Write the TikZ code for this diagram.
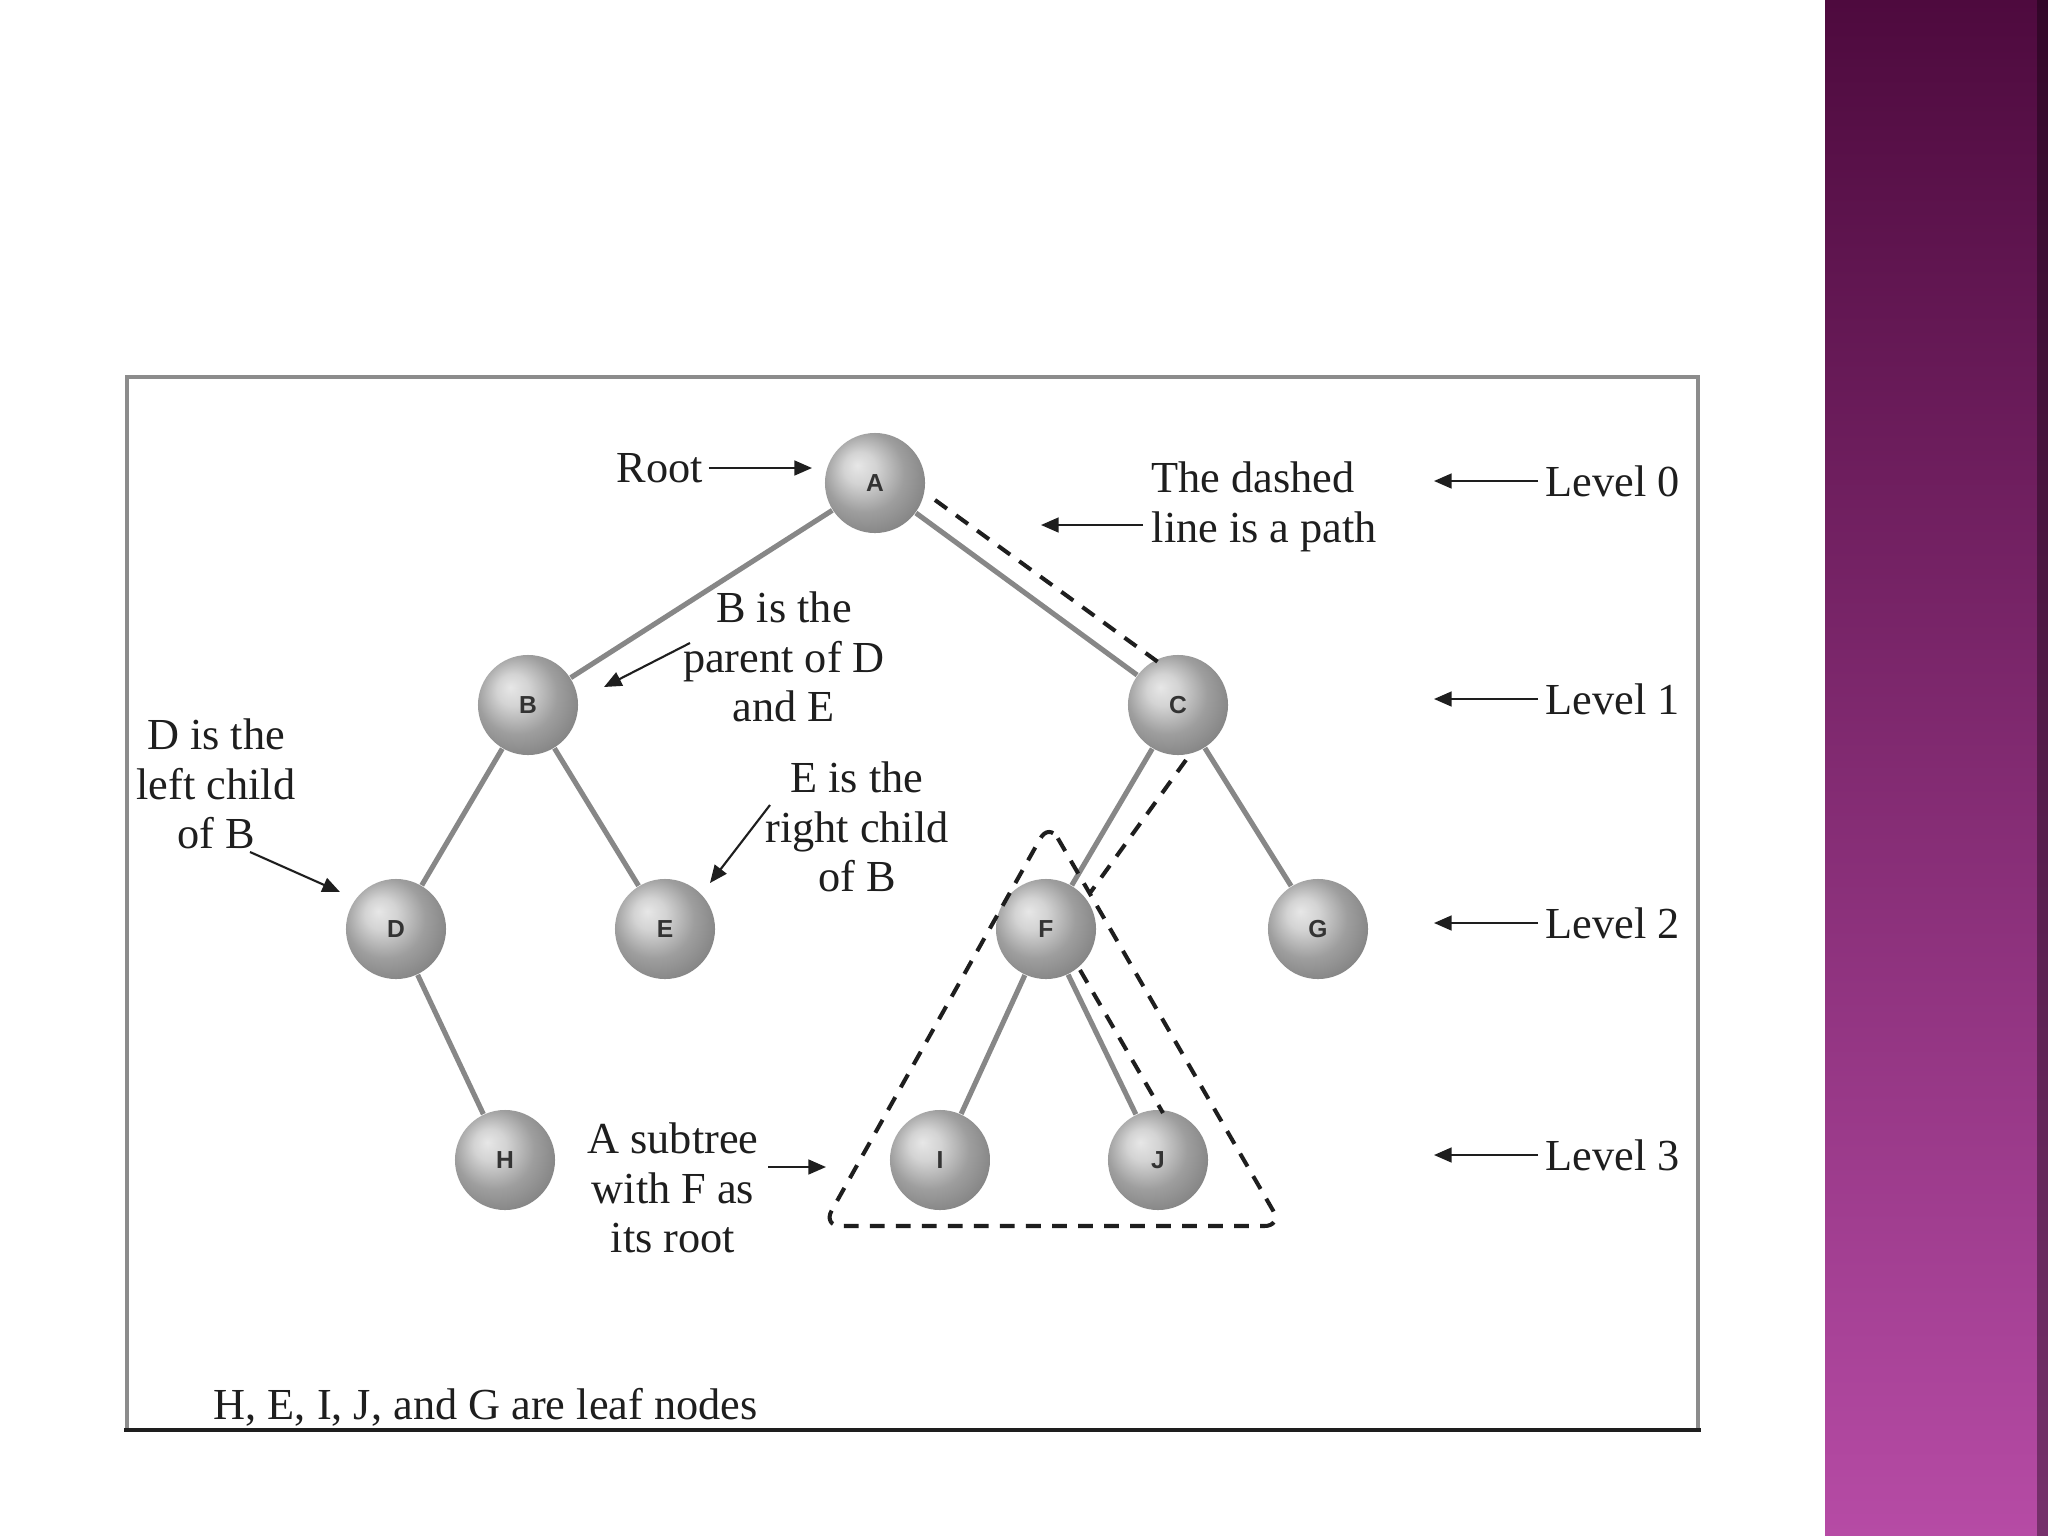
\documentclass[tikz,border=0pt]{standalone}
\usepackage{fontspec}
\setmainfont{Liberation Serif}
\newfontfamily\nodefont{Liberation Sans}
\usetikzlibrary{arrows.meta,calc}
\definecolor{ballgray}{RGB}{158,158,158}
\definecolor{edgegray}{RGB}{135,135,135}
\definecolor{boxgray}{RGB}{140,140,140}
\definecolor{bandtop}{RGB}{78,10,62}
\definecolor{bandmid}{RGB}{135,50,115}
\definecolor{bandbot}{RGB}{182,75,165}
\definecolor{ink}{RGB}{30,30,30}
\pgfdeclareradialshading{softball}{\pgfpoint{-9bp}{9bp}}{%
  color(0bp)=(ballgray!25!white);
  color(8bp)=(ballgray!45!white);
  color(20bp)=(ballgray);
  color(34bp)=(ballgray!78!black);
  color(50bp)=(ballgray!55!black)}
\begin{document}
\begin{tikzpicture}[x=0.01cm,y=-0.01cm,
  ball/.style={circle,shading=softball,minimum size=1cm,inner sep=0pt,
    font=\nodefont\bfseries\fontsize{7}{8}\selectfont,text=black!80},
  edge/.style={draw=edgegray,line width=1.45pt},
  pathdash/.style={draw=ink,line width=1.15pt,dash pattern=on 4.2pt off 3.2pt},
  note/.style={font=\fontsize{12.6}{14.1}\selectfont,align=center,inner sep=0pt,text=ink},
  ptr/.style={-{Triangle[length=5pt,width=4.2pt]},line width=0.6pt,draw=ink}]
\fill[white] (0,0) rectangle (2048,1536);
\useasboundingbox (0,0) rectangle (2048,1536);
% purple band
\shade[top color=bandtop, middle color=bandmid, bottom color=bandbot] (1825,0) rectangle (2048,1536);
\fill[black,opacity=0.35] (2037,0) rectangle (2048,1536);
% frame
\draw[boxgray,line width=1.2pt] (127,1430) -- (127,377) -- (1698,377) -- (1698,1430);
\draw[ink,line width=1.3pt] (124,1430) -- (1701,1430);
% nodes
\node[ball] (A) at (875,483) {A};
\node[ball] (B) at (528,705) {B};
\node[ball] (C) at (1178,705) {C};
\node[ball] (D) at (396,929) {D};
\node[ball] (E) at (665,929) {E};
\node[ball] (F) at (1046,929) {F};
\node[ball] (G) at (1318,929) {G};
\node[ball] (H) at (505,1160) {H};
\node[ball] (I) at (940,1160) {I};
\node[ball] (J) at (1158,1160) {J};
% edges
\draw[edge] (A) -- (B);
\draw[edge] (A) -- (C);
\draw[edge] (B) -- (D);
\draw[edge] (B) -- (E);
\draw[edge] (C) -- (F);
\draw[edge] (C) -- (G);
\draw[edge] (D) -- (H);
\draw[edge] (F) -- (I);
\draw[edge] (F) -- (J);
% dashed path
\coordinate (p1) at (935,500);
\coordinate (p2) at (1158,662);
\coordinate (p3) at (1186,760);
\coordinate (p4) at (1090,893);
\coordinate (p5) at (1080,970);
\coordinate (p6) at (1163,1113);
\draw[pathdash] (p1) -- (p2);
\draw[pathdash] (p3) -- (p4);
\draw[pathdash] (p5) -- (p6);
% subtree triangle
\coordinate (t1) at (1049,823);
\coordinate (t2) at (1282,1226);
\coordinate (t3) at (823,1226);
\draw[pathdash,rounded corners=5pt] (t1) -- (t2) -- (t3) -- cycle;
% notes
\node[note] (root) at (660,468) {Root};
\coordinate (rootT) at (812,468);
\draw[ptr] ($(root.east)+(5,0)$) -- (rootT);

\node[note,align=left,anchor=west] (dn) at (1151,507) {The dashed\\line is a path};
\coordinate (dnS) at (1143,525);
\coordinate (dnT) at (1041,525);
\draw[ptr] (dnS) -- (dnT);

\node[note] (bn) at (784,657) {B is the\\parent of D\\and E};
\coordinate (bnS) at (690,643);
\coordinate (bnT) at (604,687);
\draw[ptr] (bnS) -- (bnT);

\node[note] (dnote) at (216,784) {D is the\\left child\\of B};
\coordinate (dS) at (250,852);
\coordinate (dT) at (340,892);
\draw[ptr] (dS) -- (dT);

\node[note] (en) at (857,827) {E is the\\right child\\of B};
\coordinate (eS) at (770,805);
\coordinate (eT) at (710,883);
\draw[ptr] (eS) -- (eT);

\node[note] (sn) at (673,1188) {A subtree\\with F as\\its root};
\coordinate (sS) at (768,1167);
\coordinate (sT) at (826,1167);
\draw[ptr] (sS) -- (sT);

% levels
\node[note,anchor=west] (L0) at (1545,481) {Level 0};
\node[note,anchor=west] (L1) at (1545,699) {Level 1};
\node[note,anchor=west] (L2) at (1545,923) {Level 2};
\node[note,anchor=west] (L3) at (1545,1155) {Level 3};
\coordinate (L0t) at (1434,481);
\coordinate (L1t) at (1434,699);
\coordinate (L2t) at (1434,923);
\coordinate (L3t) at (1434,1155);
\draw[ptr] ($(L0.west)+(-7,0)$) -- (L0t);
\draw[ptr] ($(L1.west)+(-7,0)$) -- (L1t);
\draw[ptr] ($(L2.west)+(-7,0)$) -- (L2t);
\draw[ptr] ($(L3.west)+(-7,0)$) -- (L3t);

\node[note,anchor=west] (leaf) at (213,1407) {H, E, I, J, and G are leaf nodes};
\end{tikzpicture}
\end{document}
